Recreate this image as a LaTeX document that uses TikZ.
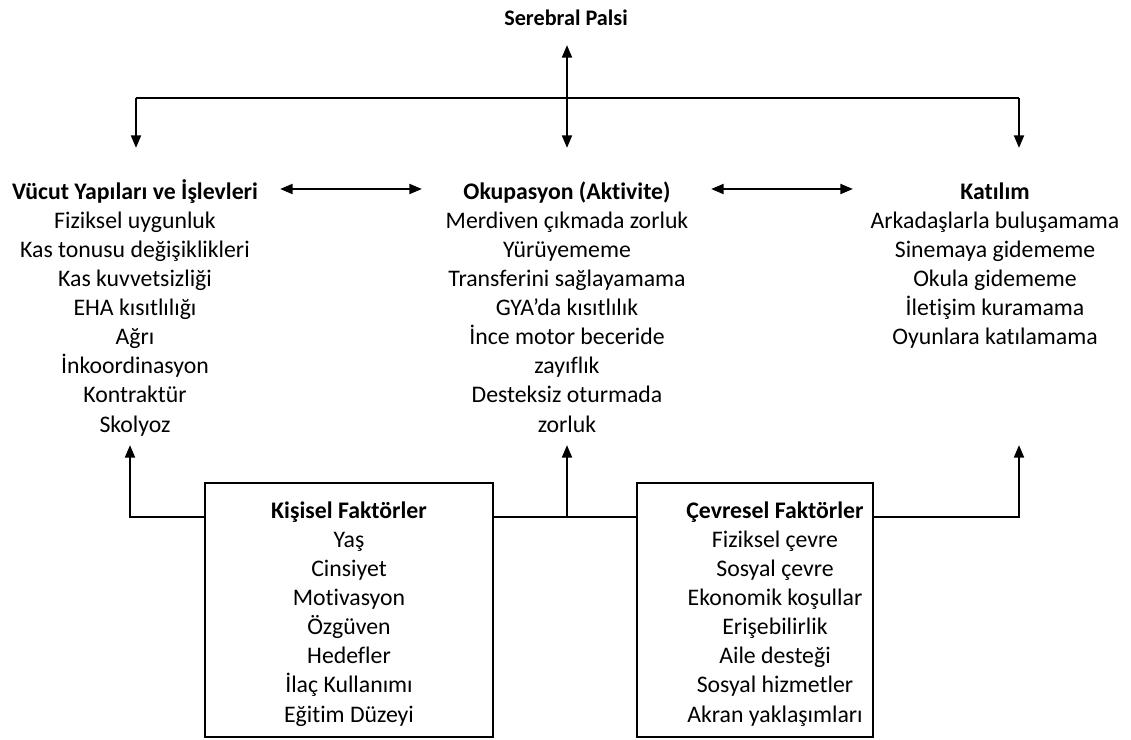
\documentclass[tikz,border=0pt]{standalone}
\usepackage{fontspec}
\setmainfont{Carlito}[Ligatures=NoCommon]
\usetikzlibrary{arrows.meta,positioning}

\newcommand{\hd}[1]{\textbf{\vphantom{İ}#1}}

\tikzset{
  line/.style={line width=1.7pt},
  conn/.style={line, -{Triangle[length=9pt,width=7pt]}},
  both/.style={line, {Triangle[length=9pt,width=7pt]}-{Triangle[length=9pt,width=7pt]}},
  column/.style={align=center, anchor=north, inner sep=0pt, font=\fontsize{16.9}{20.7}\selectfont},
  factorbox/.style={draw, line, minimum height=6.35cm, inner sep=0pt},
}

\begin{document}
\begin{tikzpicture}[x=0.025cm,y=-0.025cm]
\useasboundingbox (0,0) rectangle (1131,740);

% top
\node[inner sep=0pt, font=\bfseries\fontsize{15.8}{18}\selectfont] (sp) at (566,18) {Serebral Palsi};
\coordinate (hub) at (567,98);
\coordinate (hubL) at (136,98);
\coordinate (hubR) at (1019,98);
\coordinate (spin) at (567,45);

% columns
\node[column] (vucut) at (135,179) {\hd{Vücut Yapıları ve İşlevleri}\\
  Fiziksel uygunluk\\ Kas tonusu değişiklikleri\\ Kas kuvvetsizliği\\ EHA kısıtlılığı\\
  Ağrı\\ İnkoordinasyon\\ Kontraktür\\ Skolyoz};
\node[column] (okup) at (567,179) {\hd{Okupasyon (Aktivite)}\\
  Merdiven çıkmada zorluk\\ Yürüyememe\\ Transferini sağlayamama\\ GYA’da kısıtlılık\\
  İnce motor beceride\\ zayıflık\\ Desteksiz oturmada\\ zorluk};
\node[column] (katilim) at (995,179) {\hd{Katılım}\\
  Arkadaşlarla buluşamama\\ Sinemaya gidememe\\ Okula gidememe\\ İletişim kuramama\\
  Oyunlara katılamama};

\coordinate (hubdown) at (567,148);
\draw[conn] (hub) -- (spin);
\draw[line] (hubL) -- (hubR);
\draw[conn] (hub) -- (hubdown);
\draw[conn] (hubL) -- (hubL |- hubdown);
\draw[conn] (hubR) -- (hubR |- hubdown);

\coordinate (a1) at (280,189);
\coordinate (a2) at (422,189);
\coordinate (a3) at (711,189);
\coordinate (a4) at (853,189);
\draw[both] (a1) -- (a2);
\draw[both] (a3) -- (a4);

% factors
\node[factorbox, minimum width=7.2cm] (kisiselbox) at (349,610) {};
\node[factorbox, minimum width=5.9cm] (cevreselbox) at (755,610) {};
\node[column, below=0.41cm of kisiselbox.north] (kisisel) {\hd{Kişisel Faktörler}\\
  Yaş\\ Cinsiyet\\ Motivasyon\\ Özgüven\\ Hedefler\\ İlaç Kullanımı\\ Eğitim Düzeyi};
\node[column, below=0.41cm of cevreselbox.north, xshift=0.5cm] (cevresel) {\hd{Çevresel Faktörler}\\
  Fiziksel çevre\\ Sosyal çevre\\ Ekonomik koşullar\\ Erişebilirlik\\ Aile desteği\\
  Sosyal hizmetler\\ Akran yaklaşımları};

\coordinate (base) at (567,517);
\coordinate (vucutup) at (130,445);
\coordinate (okupup) at (567,445);
\coordinate (katilimup) at (1019,445);
\draw[conn] (kisiselbox.west |- base) -| (vucutup);
\draw[line] (kisiselbox.east |- base) -- (cevreselbox.west |- base);
\draw[conn] (base) -- (okupup);
\draw[conn] (cevreselbox.east |- base) -| (katilimup);
\end{tikzpicture}
\end{document}
